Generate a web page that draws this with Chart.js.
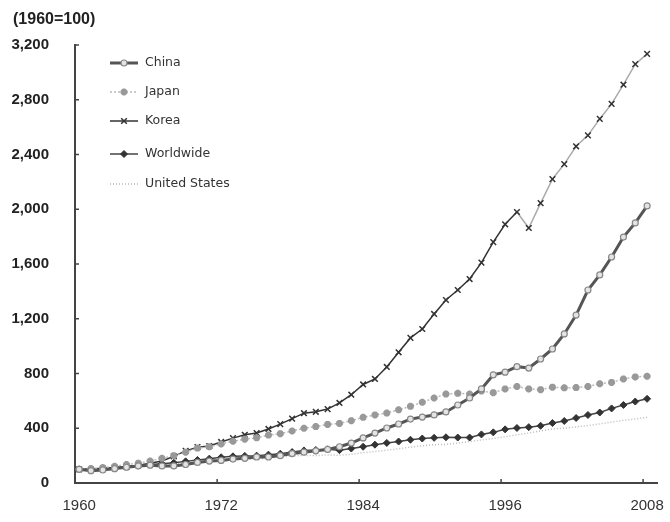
<!DOCTYPE html>
<html>
<head>
<meta charset="utf-8">
<title>Index (1960=100)</title>
<script src="https://cdn.jsdelivr.net/npm/chart.js@4.4.1/dist/chart.umd.min.js"></script>
<style>
    html, body { margin: 0; padding: 0; background: #fff; }
    #wrap { position: relative; width: 670px; height: 522px; }
</style>
</head>
<body>
<div id="wrap"><canvas id="indexChart" width="670" height="522"></canvas></div>
<script>
// Years on the x axis
const years = [];
for (let y = 1960; y <= 2008; y++) years.push(y);

const xTickYears = [1960, 1972, 1984, 1996, 2008];

// Series values (1960=100)
const china = [100, 90, 95, 105, 115, 125, 130, 125, 125, 135,
    150, 160, 165, 175, 180, 190, 190, 200, 215, 225,
    235, 245, 265, 292, 329, 365, 402, 431, 467, 482,
    497, 519, 570, 621, 687, 790, 810, 850, 840, 906,
    979, 1089, 1227, 1410, 1520, 1651, 1797, 1900, 2024];

const japan = [100, 105, 112, 122, 135, 145, 160, 180, 200, 225,
    255, 265, 285, 305, 320, 330, 350, 360, 380, 400,
    412, 428, 435, 455, 480, 497, 511, 535, 560, 590,
    621, 650, 655, 650, 672, 660, 687, 705, 687, 682,
    700, 695, 697, 705, 725, 735, 760, 775, 780];

const korea = [100, 98, 105, 112, 118, 130, 145, 160, 195, 235,
    262, 270, 300, 328, 352, 365, 395, 430, 470, 510,
    520, 540, 585, 645, 720, 760, 848, 955, 1060, 1125,
    1235, 1337, 1410, 1490, 1610, 1760, 1890, 1980, 1863, 2045,
    2220, 2330, 2460, 2540, 2660, 2770, 2910, 3060, 3135];

const worldwide = [100, 103, 108, 113, 120, 127, 135, 140, 148, 158,
    168, 178, 188, 195, 198, 200, 207, 214, 226, 238,
    241, 246, 240, 252, 265, 280, 293, 303, 316, 325,
    330, 334, 332, 332, 355, 370, 392, 402, 408, 418,
    438, 453, 475, 497, 515, 545, 570, 595, 615];

const unitedStates = [100, 103, 108, 112, 117, 123, 130, 134, 140, 146,
    150, 155, 162, 170, 172, 175, 182, 190, 198, 202,
    200, 205, 203, 210, 222, 230, 240, 250, 262, 272,
    280, 282, 292, 302, 315, 325, 338, 352, 365, 380,
    395, 400, 410, 420, 432, 445, 458, 468, 480];

const yTicks = [0, 400, 800, 1200, 1600, 2000, 2400, 2800, 3200];

function toPoints(values) {
    return values.map((v, i) => ({ x: years[i], y: v }));
}

// Small inward tick marks on both axes, plus the unit caption
const innerTicks = {
    id: 'innerTicks',
    afterDraw(chart) {
        const ctx = chart.ctx;
        const xs = chart.scales.x;
        const ys = chart.scales.y;
        const area = chart.chartArea;
        ctx.save();
        ctx.strokeStyle = '#444';
        ctx.lineWidth = 1.5;
        yTicks.forEach(v => {
            const py = ys.getPixelForValue(v);
            ctx.beginPath();
            ctx.moveTo(area.left, py);
            ctx.lineTo(area.left + 4, py);
            ctx.stroke();
        });
        xTickYears.forEach(v => {
            const px = xs.getPixelForValue(v) - 4;
            ctx.beginPath();
            ctx.moveTo(px, area.bottom);
            ctx.lineTo(px, area.bottom - 4);
            ctx.stroke();
        });
        ctx.fillStyle = '#222';
        ctx.font = 'bold 16px "Liberation Sans", Arial, sans-serif';
        ctx.textBaseline = 'middle';
        ctx.textAlign = 'left';
        ctx.fillText('(1960=100)', 13, 20);
        ctx.restore();
    }
};

// Legend drawn in the upper left of the plot
const cornerLegend = {
    id: 'cornerLegend',
    afterDraw(chart) {
        const ctx = chart.ctx;
        const rows = [63, 92, 121, 154, 184];
        ctx.save();
        chart.data.datasets.forEach((ds, i) => {
            const y = rows[i];
            ctx.save();
            ctx.strokeStyle = ds.borderColor;
            ctx.lineWidth = ds.borderWidth;
            ctx.setLineDash(ds.borderDash || []);
            ctx.beginPath();
            ctx.moveTo(110, y);
            ctx.lineTo(138, y);
            ctx.stroke();
            ctx.restore();
            if (ds.pointRadius > 0) {
                ctx.save();
                ctx.fillStyle = ds.pointBackgroundColor;
                ctx.strokeStyle = ds.pointBorderColor;
                ctx.lineWidth = ds.pointBorderWidth;
                Chart.helpers.drawPoint(ctx, {
                    pointStyle: ds.pointStyle,
                    radius: ds.pointRadius,
                    borderWidth: ds.pointBorderWidth,
                    rotation: 0
                }, 124, y);
                ctx.restore();
            }
            ctx.fillStyle = '#333';
            ctx.font = '12.5px "DejaVu Sans", Verdana, sans-serif';
            ctx.textBaseline = 'middle';
            ctx.textAlign = 'left';
            ctx.fillText(ds.label, 145, y);
        });
        ctx.restore();
    }
};

const chart = new Chart(document.getElementById('indexChart'), {
    type: 'line',
    data: {
        datasets: [
            {
                label: 'China',
                data: toPoints(china),
                borderColor: '#555',
                borderWidth: 3,
                pointStyle: 'circle',
                pointRadius: 3,
                pointBorderWidth: 1.2,
                pointBorderColor: '#888',
                pointBackgroundColor: '#e4e4e4'
            },
            {
                label: 'Japan',
                data: toPoints(japan),
                borderColor: '#bbb',
                borderWidth: 1.5,
                borderDash: [2, 2],
                pointStyle: 'star',
                pointRadius: 3.5,
                pointBorderWidth: 2.5,
                pointBorderColor: '#999',
                pointBackgroundColor: '#999'
            },
            {
                label: 'Korea',
                data: toPoints(korea),
                borderColor: '#333',
                borderWidth: 1.5,
                pointStyle: 'crossRot',
                pointRadius: 4,
                pointBorderWidth: 1.5,
                pointBorderColor: '#333',
                pointBackgroundColor: '#333',
                segment: {
                    borderColor: c => c.p0.parsed.x >= 1997 ? '#aaa' : undefined
                }
            },
            {
                label: 'Worldwide',
                data: toPoints(worldwide),
                borderColor: '#444',
                borderWidth: 1.5,
                pointStyle: 'rectRot',
                pointRadius: 3.5,
                pointBorderWidth: 1,
                pointBorderColor: '#333',
                pointBackgroundColor: '#333'
            },
            {
                label: 'United States',
                data: toPoints(unitedStates),
                borderColor: '#bbb',
                borderWidth: 1.5,
                borderDash: [1, 2],
                pointStyle: 'circle',
                pointRadius: 0,
                pointBorderWidth: 0,
                pointBorderColor: '#bbb',
                pointBackgroundColor: '#bbb'
            }
        ]
    },
    options: {
        responsive: false,
        animation: false,
        layout: { padding: { top: 45, right: 12, left: 0, bottom: 0 } },
        plugins: {
            legend: { display: false },
            tooltip: { enabled: false }
        },
        scales: {
            x: {
                type: 'linear',
                min: 1959.65,
                max: 2008.9,
                afterBuildTicks: scale => {
                    scale.ticks = xTickYears.map(v => ({ value: v }));
                },
                afterFit: scale => { scale.height = 39; },
                grid: { display: false },
                border: { display: true, color: '#444', width: 2 },
                ticks: {
                    padding: 6,
                    color: '#333',
                    font: { family: '"Liberation Sans", Arial', size: 15 },
                    maxRotation: 0,
                    callback: value => String(value)
                }
            },
            y: {
                min: 0,
                max: 3200,
                afterBuildTicks: scale => {
                    scale.ticks = yTicks.map(v => ({ value: v }));
                },
                afterFit: scale => { scale.width = 75; },
                grid: { display: false },
                border: { display: true, color: '#444', width: 2 },
                ticks: {
                    padding: 18,
                    color: '#222',
                    font: { family: '"Liberation Sans", Arial', size: 15, weight: 'bold' },
                    callback: value => value.toLocaleString('en-US')
                }
            }
        }
    },
    plugins: [innerTicks, cornerLegend]
});
</script>
</body>
</html>
